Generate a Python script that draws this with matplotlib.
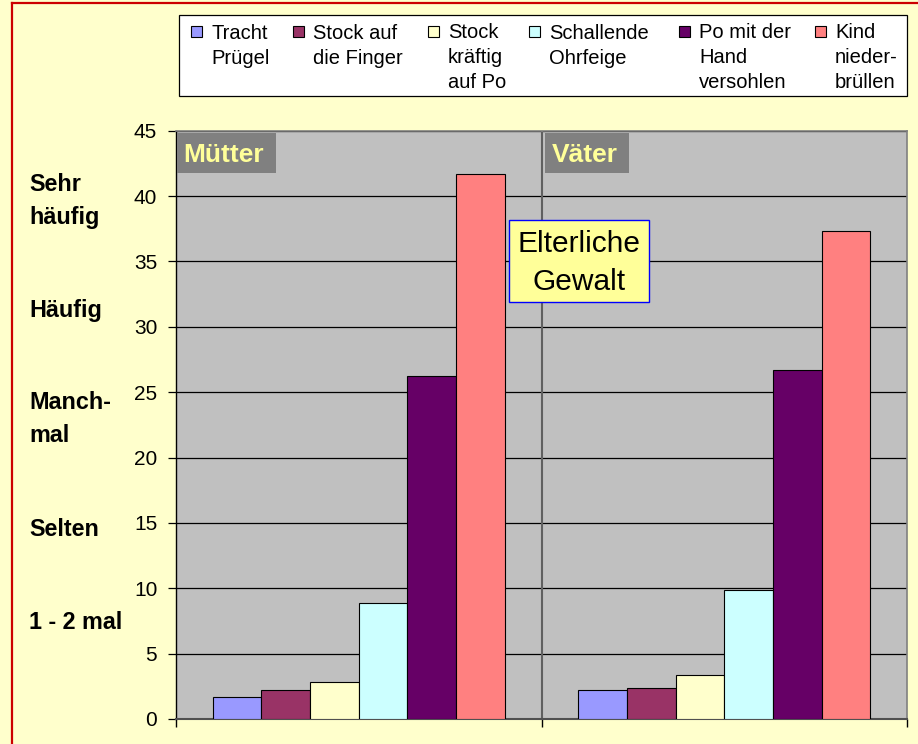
import matplotlib
matplotlib.use("Agg")
import matplotlib.pyplot as plt
from matplotlib.patches import Rectangle
import numpy as np

plt.rcParams['font.family'] = ['Liberation Sans', 'DejaVu Sans']

# ---- data ----
groups = ["Mütter", "Väter"]
series_labels = ["Tracht\nPrügel", "Stock auf\ndie Finger", "Stock\nkräftig\nauf Po",
                 "Schallende\nOhrfeige", "Po mit der\nHand\nversohlen", "Kind\nnieder-\nbrüllen"]
series_colors = ["#9999FF", "#993366", "#FFFFCC", "#CCFFFF", "#660066", "#FF8080"]
tracht_pruegel = [1.7, 2.2]
stock_finger = [2.2, 2.35]
stock_po = [2.8, 3.35]
schallende_ohrfeige = [8.9, 9.85]
po_hand = [26.2, 26.7]
kind_niederbruellen = [41.7, 37.3]
values = [tracht_pruegel, stock_finger, stock_po, schallende_ohrfeige, po_hand, kind_niederbruellen]
y_ticks = [0, 5, 10, 15, 20, 25, 30, 35, 40, 45]
freq_labels = ["Sehr\nhäufig", "Häufig", "Manch-\nmal", "Selten", "1 - 2 mal"]
title_text = "Elterliche\nGewalt"

W, H = 918, 744
def fx(px): return px / W
def fy(py): return 1 - py / H

fig = plt.figure(figsize=(W / 100, H / 100), dpi=100, facecolor="#FFFFCC")

# red frame (top & left)
fig.add_artist(plt.Line2D([fx(12), fx(12)], [fy(3), fy(746)], color="#CC0000", lw=1.6))
fig.add_artist(plt.Line2D([fx(12), fx(920)], [fy(3), fy(3)], color="#CC0000", lw=1.6))

ax = fig.add_axes([fx(176), fy(719), fx(907) - fx(176), fy(130.7) - fy(719)])
ax.set_facecolor("#C0C0C0")
ax.set_xlim(-0.5, 1.5)
ax.set_ylim(0, 45)

n = len(values)
gw = 0.8
bw = gw / n
xc = np.arange(len(groups))
for i, (vals, col) in enumerate(zip(values, series_colors)):
    ax.bar(xc + (i - (n - 1) / 2) * bw, vals, width=bw, color=col,
           edgecolor="#000000", linewidth=0.8, zorder=3)

ax.set_yticks(y_ticks)
ax.set_yticklabels([str(t) for t in y_ticks], fontsize=15)
ax.yaxis.grid(True, color="#000000", linewidth=0.9, zorder=1)
ax.set_axisbelow(True)
ax.tick_params(axis="y", direction="out", length=5.5, width=0.9, pad=8, colors="#000000")
ax.set_xticks([-0.5, 0.5, 1.5])
ax.set_xticklabels([])
ax.tick_params(axis="x", direction="out", length=6, width=1.0, color="#000000")
ax.axvline(0.5, color="#606060", lw=1.5, zorder=2)

for s in ["top", "right"]:
    ax.spines[s].set_color("#808080")
    ax.spines[s].set_linewidth(1.2)
ax.spines["left"].set_color("#000000")
ax.spines["left"].set_linewidth(1.0)
ax.spines["bottom"].set_color("#505050")
ax.spines["bottom"].set_linewidth(1.5)

# group label boxes
box_x = [(177, 276, 183), (545, 629, 552)]
for (x0, x1, tx), g in zip(box_x, groups):
    fig.add_artist(Rectangle((fx(x0), fy(173)), fx(x1) - fx(x0), fy(133) - fy(173),
                             transform=fig.transFigure, facecolor="#808080", edgecolor="none", zorder=5))
    fig.text(fx(tx), fy(161.5), g, fontsize=19, fontweight="bold", color="#FFFF99",
             va="baseline", ha="left", zorder=6)

# title box
fig.add_artist(Rectangle((fx(509), fy(302)), fx(649) - fx(509), fy(220) - fy(302),
                         transform=fig.transFigure, facecolor="#FFFF99", edgecolor="#0000FF",
                         linewidth=1.0, zorder=5))
fig.text(fx(579.5), fy(290), title_text, fontsize=21.5, ha="center", va="baseline",
         multialignment="center", linespacing=1.46, color="#000000", zorder=6)

# frequency labels on the left
freq_baselines = [224, 317, 442, 536, 629]
for lab, yb in zip(freq_labels, freq_baselines):
    fig.text(fx(29), fy(yb), lab, fontsize=16.8, fontweight="bold", ha="left", va="baseline",
             linespacing=1.53, color="#000000")

# legend
fig.add_artist(Rectangle((fx(179), fy(96)), fx(907) - fx(179), fy(15) - fy(96),
                         transform=fig.transFigure, facecolor="#FFFFFF", edgecolor="#000000",
                         linewidth=0.9, zorder=4))
text_x = [211, 313, 448, 549, 699, 835]
step = 24.5
for lab, col, tx in zip(series_labels, series_colors, text_x):
    fig.add_artist(Rectangle((fx(tx - 20), fy(37)), 11 / W, 11 / H, transform=fig.transFigure,
                             facecolor=col, edgecolor="#000000", linewidth=0.8, zorder=5))
    nl = lab.count("\n")
    fig.text(fx(tx), fy(39 + nl * step), lab, fontsize=14.5, ha="left", va="baseline",
             linespacing=1.39, color="#000000", zorder=6)

fig.savefig("out.png", dpi=100, facecolor=fig.get_facecolor())
